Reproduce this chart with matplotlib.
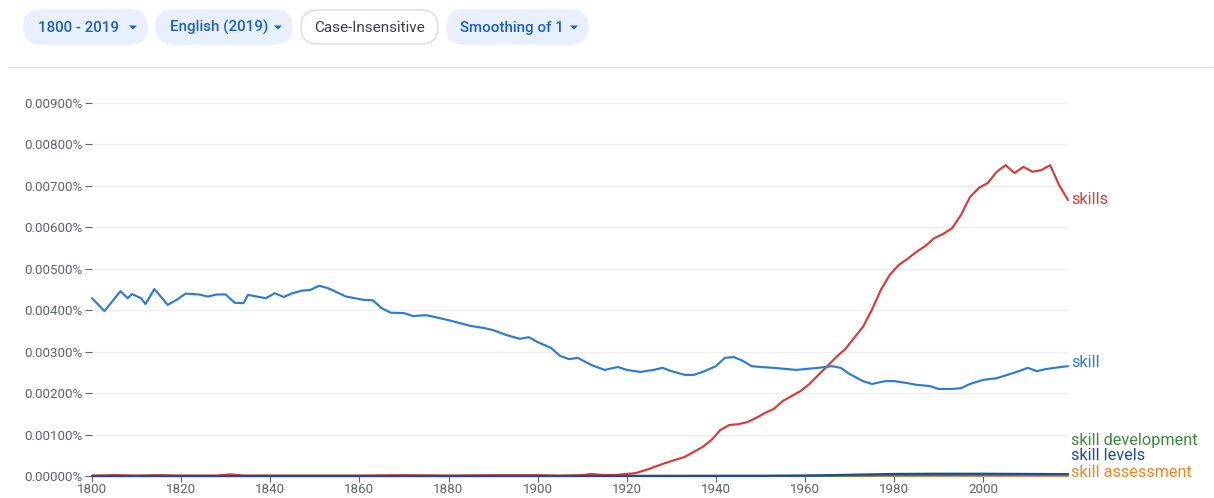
import matplotlib
matplotlib.use("Agg")
import matplotlib.pyplot as plt
from matplotlib.patches import FancyBboxPatch, Polygon
import numpy as np

plt.rcParams['font.family'] = ['Roboto', 'DejaVu Sans']

# ---- data (values in thousandths of a percent, i.e. 4.29 -> 0.00429%) ----
skill_years = [1800, 1802.8, 1806.4, 1808, 1809, 1811, 1812, 1814, 1817, 1819, 1821, 1824,
               1826, 1828, 1830, 1832, 1834, 1835, 1837, 1839, 1841, 1843, 1845, 1847, 1849,
               1851, 1853, 1855, 1857, 1859, 1861, 1863, 1865, 1867, 1870, 1872, 1875, 1878,
               1880, 1885, 1888, 1890, 1893, 1896, 1898, 1900, 1903, 1905, 1907, 1909, 1912,
               1915, 1918, 1920, 1923, 1926, 1928, 1930, 1933, 1935, 1937, 1940, 1942, 1944,
               1946, 1948, 1950, 1953, 1956, 1958, 1960, 1963, 1966, 1968, 1970, 1973, 1975,
               1978, 1980, 1983, 1985, 1988, 1990, 1993, 1995, 1997, 2000, 2003, 2006, 2008,
               2010, 2012, 2014, 2016, 2019]
skill_vals = [4.29, 3.98, 4.46, 4.29, 4.39, 4.29, 4.15, 4.51, 4.13, 4.25, 4.40, 4.38,
              4.33, 4.38, 4.38, 4.18, 4.17, 4.37, 4.33, 4.29, 4.41, 4.32, 4.41, 4.47, 4.49,
              4.59, 4.53, 4.43, 4.33, 4.29, 4.25, 4.24, 4.05, 3.94, 3.93, 3.86, 3.88, 3.81,
              3.76, 3.62, 3.57, 3.52, 3.40, 3.31, 3.35, 3.23, 3.09, 2.90, 2.82, 2.85, 2.68,
              2.56, 2.63, 2.56, 2.51, 2.56, 2.61, 2.53, 2.44, 2.44, 2.51, 2.65, 2.85, 2.87,
              2.78, 2.65, 2.63, 2.61, 2.58, 2.56, 2.58, 2.61, 2.65, 2.61, 2.46, 2.29, 2.22,
              2.29, 2.29, 2.24, 2.20, 2.17, 2.10, 2.10, 2.12, 2.22, 2.32, 2.36, 2.46, 2.53,
              2.61, 2.53, 2.58, 2.61, 2.65]

skills_years = [1800, 1805, 1810, 1815, 1820, 1828, 1831, 1834, 1840, 1850, 1860, 1870, 1880,
                1890, 1900, 1905, 1910, 1912, 1915, 1918, 1920, 1922, 1925, 1928, 1930, 1933,
                1935, 1937, 1939, 1941, 1943, 1945, 1947, 1949, 1951, 1953, 1955, 1957, 1959,
                1961, 1963, 1965, 1967, 1969, 1971, 1973, 1975, 1977, 1979, 1981, 1983, 1985,
                1987, 1989, 1991, 1993, 1995, 1997, 1999, 2001, 2003, 2005, 2007, 2009, 2011,
                2013, 2015, 2017, 2019]
skills_vals = [0.01, 0.02, 0.01, 0.02, 0.01, 0.01, 0.04, 0.01, 0.01, 0.01, 0.01, 0.02, 0.01,
               0.02, 0.02, 0.01, 0.02, 0.05, 0.02, 0.03, 0.05, 0.07, 0.17, 0.29, 0.36, 0.46,
               0.58, 0.70, 0.87, 1.11, 1.23, 1.25, 1.30, 1.40, 1.52, 1.62, 1.81, 1.93, 2.05,
               2.22, 2.44, 2.65, 2.87, 3.06, 3.33, 3.60, 4.01, 4.49, 4.85, 5.09, 5.24, 5.41,
               5.55, 5.74, 5.84, 5.98, 6.30, 6.73, 6.95, 7.07, 7.34, 7.50, 7.31, 7.46, 7.34,
               7.38, 7.50, 7.02, 6.66]

small_years = [1800, 1900, 1950, 1960, 1970, 1980, 1990, 2000, 2010, 2019]
dev_vals = [0.0, 0.0, 0.0, 0.005, 0.01, 0.02, 0.025, 0.03, 0.035, 0.035]
levels_vals = [0.0, 0.0, 0.005, 0.01, 0.03, 0.05, 0.055, 0.055, 0.05, 0.045]
assess_vals = [0.0, 0.0, 0.0, 0.0, 0.003, 0.008, 0.01, 0.012, 0.012, 0.012]

yticks = [0.0, 0.001, 0.002, 0.003, 0.004, 0.005, 0.006, 0.007, 0.008, 0.009]
xticks = [1800, 1820, 1840, 1860, 1880, 1900, 1920, 1940, 1960, 1980, 2000]

RED = '#d93a36'
BLUE = '#2a7bd8'
GREEN = '#3a8a3a'
NAVY = '#1f4a9c'
ORANGE = '#f48221'

W, H = 1214, 498
fig = plt.figure(figsize=(W / 100, H / 100), dpi=100)

# axes placement
x0, x1 = 92, 1068
y0, y1 = 476, 103
ax = fig.add_axes([x0 / W, 1 - y0 / H, (x1 - x0) / W, (y0 - y1) / H])
ax.set_xlim(1800, 2019)
ax.set_ylim(0, 0.009)

def pct(v):
    return np.array(v) / 1000.0

LW = 1.55
kw = dict(lw=LW, clip_on=False, solid_joinstyle='round', solid_capstyle='round')
ax.plot(small_years, pct(assess_vals), color=ORANGE, zorder=3, **kw)
ax.plot(small_years, pct(dev_vals), color=GREEN, zorder=3, **kw)
ax.plot(skills_years, pct(skills_vals), color=RED, zorder=4, **kw)
ax.plot(skill_years, pct(skill_vals), color=BLUE, zorder=4, **kw)
ax.plot(small_years, pct(levels_vals), color=NAVY, zorder=5, **kw)

ax.set_yticks(yticks)
ax.set_yticklabels(['%.5f%%' % t for t in yticks])
ax.set_xticks(xticks)
ax.set_xticklabels([str(x) for x in xticks])
ax.grid(axis='y', color='#efefef', lw=1)
ax.set_axisbelow(True)
for s in ['top', 'right', 'left']:
    ax.spines[s].set_visible(False)
ax.spines['bottom'].set_color('#9aa0a6')
ax.spines['bottom'].set_linewidth(0.8)
ax.tick_params(axis='y', length=5, width=0.8, color='#5f6368', labelcolor='#5f6368',
               labelsize=9.6, pad=2)
ax.tick_params(axis='x', length=4, width=0.8, color='#5f6368', labelcolor='#5f6368',
               labelsize=9.6, pad=1)

# end labels
lab_x = 1071 / W
def flabel(ypix, text, color):
    fig.text(lab_x, 1 - ypix / H, text, color=color, fontsize=11.7, va='center', ha='left')
flabel(200, 'skills', RED)
flabel(362, 'skill', BLUE)
flabel(440, 'skill development', GREEN)
flabel(456, 'skill levels', NAVY)
flabel(472, 'skill assessment', ORANGE)

# header overlay in pixel coordinates
hx = fig.add_axes([0, 0, 1, 1], zorder=-1)
hx.set_xlim(0, W)
hx.set_ylim(H, 0)
hx.axis('off')

def pill(xl, xr, text, filled=True):
    yt, yb = 10, 44
    r = (yb - yt) / 2
    box = FancyBboxPatch((xl, yt), (xr - xl), (yb - yt),
                         boxstyle='round,pad=0,rounding_size=%f' % r,
                         facecolor='#e8f0fe' if filled else 'white',
                         edgecolor='#e8f0fe' if filled else '#dadce0', lw=1)
    hx.add_patch(box)
    col = '#1a5fc8' if filled else '#3c4043'
    if filled:
        hx.text(xl + 13.5, 27.5, text, color=col, fontsize=10.9, va='center', ha='left',
                fontweight='medium')
        cx = xr - 14
        tri = Polygon([[cx - 4, 25.5], [cx + 4, 25.5], [cx, 29.5]], closed=True,
                      facecolor=col, edgecolor='none')
        hx.add_patch(tri)
    else:
        hx.text((xl + xr) / 2, 27.5, text, color=col, fontsize=11.0, va='center', ha='center')

pill(24, 147, '1800 - 2019')
pill(156, 292, 'English (2019)')
pill(301, 438, 'Case-Insensitive', filled=False)
pill(447, 588, 'Smoothing of 1')

hx.plot([9, 1212], [67, 67], color='#e0e0e0', lw=1)

fig.savefig('out.png', dpi=100)
